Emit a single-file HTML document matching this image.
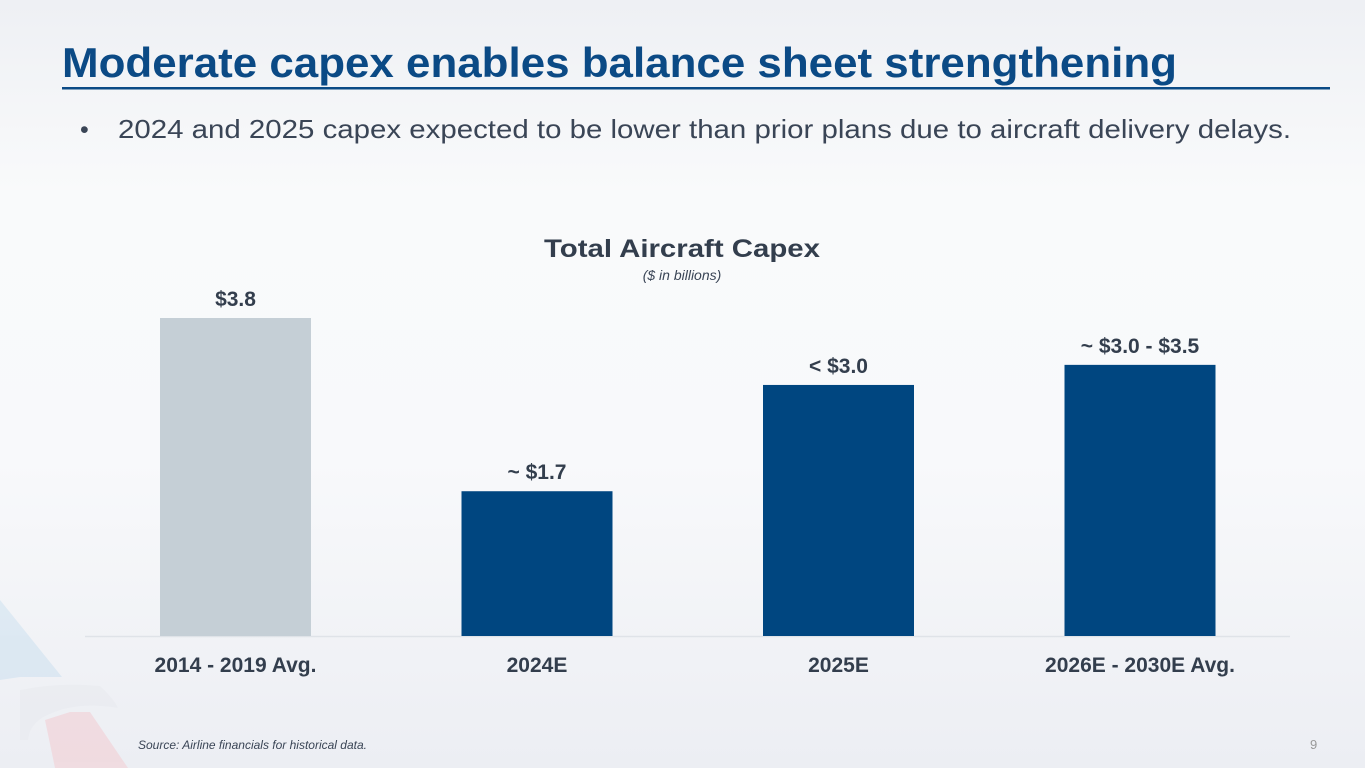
<!DOCTYPE html>
<html><head><meta charset="utf-8"><style>
html,body{margin:0;padding:0}
body{width:1365px;height:768px;overflow:hidden;background:linear-gradient(180deg,#eef0f4 0%,#f9fafb 25%,#f8f9fb 60%,#eceef3 100%);font-family:"Liberation Sans",sans-serif}
svg{display:block}
</style></head><body>
<svg width="1365" height="768" viewBox="0 0 1365 768">
  <g opacity="0.5">
    <polygon points="0,600 0,680 20,677 62,677" fill="#c9dff0"/>
    <path d="M20,690 Q60,682 100,686 Q115,700 118,708 Q80,702 55,712 Q30,720 28,740 L20,740 Z" fill="#e8eaef"/>
    <polygon points="45,720 70,712 90,712 128,768 55,768" fill="#f3c9cf"/>
  </g>
  <text x="62" y="77" font-size="42" font-weight="bold" fill="#0b4a85" textLength="1115" lengthAdjust="spacingAndGlyphs">Moderate capex enables balance sheet strengthening</text>
  <rect x="62" y="87" width="1268" height="2.5" fill="#0b4a85"/>
  <text x="80" y="138" font-size="25" fill="#3a4556">•</text>
  <text x="118" y="138" font-size="26" fill="#3a4556" textLength="1173" lengthAdjust="spacingAndGlyphs">2024 and 2025 capex expected to be lower than prior plans due to aircraft delivery delays.</text>
  <text x="682" y="257" text-anchor="middle" font-size="25" font-weight="bold" fill="#333e4d" textLength="276" lengthAdjust="spacingAndGlyphs">Total Aircraft Capex</text>
  <text x="682" y="280" text-anchor="middle" font-size="14" font-style="italic" fill="#3a4556">($ in billions)</text>
  <g id="chart"></g>
  <text x="138" y="749" font-size="12" font-style="italic" fill="#3a4556">Source: Airline financials for historical data.</text>
  <text x="1310" y="749" font-size="13" fill="#999">9</text>
</svg>
<script>
const categories = ["2014 - 2019 Avg.", "2024E", "2025E", "2026E - 2030E Avg."];
const values = [3.8, 1.73, 3.0, 3.24];
const valueLabels = ["$3.8", "~ $1.7", "< $3.0", "~ $3.0 - $3.5"];
const barColors = ["#c5cfd6", "#004680", "#004680", "#004680"];

const NS = "http://www.w3.org/2000/svg";
const g = document.getElementById("chart");
const baseY = 636, plotLeft = 85, plotRight = 1290, pxPerUnit = 318 / 3.8;
const step = 301.5, barW = 151, firstX = 160;
function yScale(v){ return baseY - v * pxPerUnit; }
function xScale(i){ return firstX + i * step; }
function mk(tag, attrs){ const e = document.createElementNS(NS, tag); for (const k in attrs) e.setAttribute(k, attrs[k]); return e; }

const axis = mk("line", {x1: plotLeft, x2: plotRight, y1: baseY + 0.5, y2: baseY + 0.5, stroke: "#dfe3e8", "stroke-width": 1.5});


g.appendChild(axis);

values.forEach((v, i) => {
  const x = xScale(i), y = yScale(v);
  const r = mk("rect", {x: x, y: y, width: barW, height: baseY - y, fill: barColors[i]});
  
  
  g.appendChild(r);
  const t = mk("text", {x: x + barW / 2, y: y - 12, "text-anchor": "middle", "font-size": 21, "font-weight": "bold", fill: "#333e4d"});
  t.textContent = valueLabels[i];
  
  
  g.appendChild(t);
  const c = mk("text", {x: x + barW / 2, y: 672, "text-anchor": "middle", "font-size": 21, "font-weight": "bold", fill: "#333e4d"});
  c.textContent = categories[i];
  
  
  g.appendChild(c);
});
</script>
</body></html>
